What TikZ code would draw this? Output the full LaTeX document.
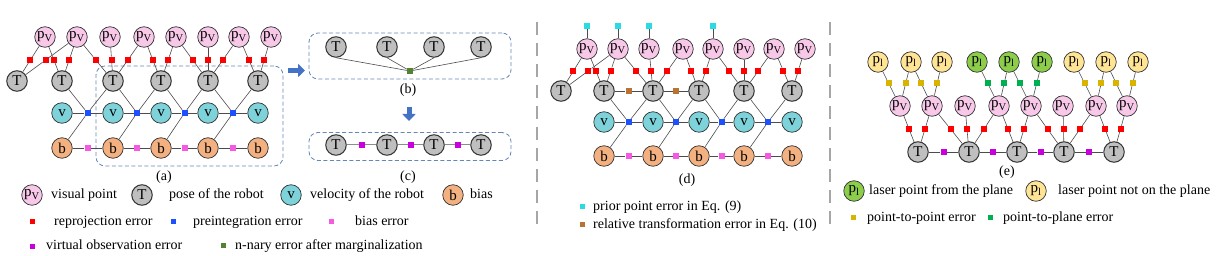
\documentclass[tikz,border=0pt]{standalone}
\usepackage{fontspec}
\setmainfont{Liberation Serif}
\usetikzlibrary{calc,arrows.meta}
\definecolor{pvfill}{RGB}{248,200,232}
\definecolor{Tfill}{RGB}{191,191,191}
\definecolor{vfill}{RGB}{126,210,218}
\definecolor{bfill}{RGB}{243,176,128}
\definecolor{plyel}{RGB}{255,228,150}
\definecolor{plgrn}{RGB}{140,205,75}
\definecolor{sqred}{RGB}{255,0,0}
\definecolor{sqblue}{RGB}{30,80,255}
\definecolor{sqpink}{RGB}{245,90,225}
\definecolor{sqmag}{RGB}{200,0,220}
\definecolor{sqdgreen}{RGB}{84,130,53}
\definecolor{sqcyan}{RGB}{40,220,225}
\definecolor{sqbrown}{RGB}{185,115,50}
\definecolor{sqyel}{RGB}{215,180,0}
\definecolor{sqgrn}{RGB}{0,176,80}
\definecolor{boxblue}{RGB}{100,135,185}
\definecolor{arrblue}{RGB}{68,114,196}
\definecolor{sepgray}{RGB}{166,166,166}
\begin{document}
\begin{tikzpicture}[x=1pt,y=-1pt,
  nd/.style={circle,draw=black!80,line width=0.7pt,minimum size=20.5pt,inner sep=0pt,font=\fontsize{15}{15}\selectfont},
  pvn/.style={nd,fill=pvfill},
  Tn/.style={nd,fill=Tfill,line width=1pt},
  vn/.style={nd,fill=vfill},
  bn/.style={nd,fill=bfill},
  plyn/.style={nd,fill=plyel},
  plgn/.style={nd,fill=plgrn},
  sq/.style={rectangle,inner sep=0pt,minimum size=6pt},
  rsq/.style={sq,fill=sqred},
  bsq/.style={sq,fill=sqblue},
  psq/.style={sq,fill=sqpink},
  msq/.style={sq,fill=sqmag},
  gsq/.style={sq,fill=sqdgreen},
  csq/.style={sq,fill=sqcyan},
  brsq/.style={sq,fill=sqbrown},
  ysq/.style={sq,fill=sqyel},
  esq/.style={sq,fill=sqgrn},
  lsq/.style={minimum size=5pt},
  ed/.style={draw=black!70,line width=0.6pt},
  led/.style={draw=black!45,line width=1pt},
  lbl/.style={font=\fontsize{14}{16}\selectfont,inner sep=0pt,anchor=west,text height=9.5pt,text depth=3pt},
  captxt/.style={font=\fontsize{14}{16}\selectfont,inner sep=0pt},
  dbox/.style={draw=boxblue,dash pattern=on 4pt off 2.5pt,line width=0.8pt,rounded corners=9pt},
  sepline/.style={draw=sepgray,line width=2pt,dash pattern=on 13pt off 8pt},
  barrow/.style={draw=arrblue,line width=5pt,-{Triangle[width=13pt,length=7pt]}}
]
\useasboundingbox (0,0) rectangle (1226,256);

% ---------------- panel (a) ----------------
\node[dbox,minimum width=187pt,minimum height=100pt] (boxA) at (189.5,116) {};
\foreach \i/\x in {1/45,2/77,3/110,4/144,5/176,6/208,7/239,8/271}
  \node[pvn] (aP\i) at (\x,37) {p\textsubscript{V}};
\foreach \i/\x in {1/17,2/62,3/113,4/161,5/208,6/258}
  \node[Tn] (aT\i) at (\x,81) {T};
\foreach \i/\x in {2/62,3/113,4/161,5/208,6/258}{
  \node[vn] (aV\i) at (\x,113) {v};
  \node[bn] (aB\i) at (\x,148) {b};
}
\foreach \p/\t in {1/1,2/1,1/2,2/2,2/3,3/3,4/3,4/4,5/4,5/5,6/5,7/5,7/6,8/6}{
  \node[rsq] (aR\p\t) at ($(aP\p)!0.52!(aT\t)$) {};
  \draw[ed] (aP\p) -- (aR\p\t) -- (aT\t);
}
\foreach \i/\j in {2/3,3/4,4/5,5/6}{
  \node[bsq] (aI\i) at ($(aV\i)!0.5!(aV\j)$) {};
  \node[psq] (aK\i) at ($(aB\i)!0.5!(aB\j)$) {};
  \draw[ed] (aT\i) -- (aI\i) -- (aT\j);
  \draw[ed] (aV\i) -- (aI\i) -- (aV\j);
  \draw[ed] (aB\i) -- (aI\i);
  \draw[ed] (aB\i) -- (aK\i) -- (aB\j);
}
\node[captxt] (capA) at (164,177) {(a)};

% ---------------- panel (b) ----------------
\node[dbox,minimum width=202pt,minimum height=46pt] (boxB) at (410,56) {};
\foreach \i/\x in {1/336,2/387,3/434,4/481}
  \node[Tn] (bT\i) at (\x,47) {T};
\node[gsq] (bN) at (410,71) {};
\foreach \i in {1,...,4}
  \draw[ed] (bT\i.south) -- (bN);
\node[captxt] (capB) at (408,90) {(b)};

% ---------------- panel (c) ----------------
\node[dbox,minimum width=202pt,minimum height=28pt] (boxC) at (410,146.5) {};
\foreach \i/\x in {1/336,2/387,3/434,4/481}
  \node[Tn] (cT\i) at (\x,145) {T};
\foreach \i/\j/\x in {1/2/362,2/3/411,3/4/458}{
  \node[msq] (cM\i) at (\x,145) {};
  \draw[led] (cT\i) -- (cM\i) -- (cT\j);
}
\node[captxt] (capC) at (408,177) {(c)};

% block arrows
\coordinate (arA1) at (288,70.5);
\coordinate (arA2) at (305,70.5);
\draw[barrow] (arA1) -- (arA2);
\coordinate (arB1) at (409,107);
\coordinate (arB2) at (409,121);
\draw[barrow] (arB1) -- (arB2);

% legend (a)-(c)
\node[pvn] (lgP) at (32,195) {p\textsubscript{V}};
\node[lbl] (lgPt) at (51,195) {visual point};
\node[Tn] (lgT) at (142,195) {T};
\node[lbl] (lgTt) at (169,195) {pose of the robot};
\node[vn] (lgV) at (291,195) {v};
\node[lbl] (lgVt) at (310,195) {velocity of the robot};
\node[bn] (lgB) at (453,195) {b};
\node[lbl] (lgBt) at (470,195) {bias};
\node[rsq,lsq] (lgR) at (32,222) {};
\node[lbl] (lgRt) at (54,222) {reprojection error};
\node[bsq,lsq] (lgI) at (173,222) {};
\node[lbl] (lgIt) at (193,222) {preintegration error};
\node[psq,lsq] (lgK) at (331,222) {};
\node[lbl] (lgKt) at (355,222) {bias error};
\node[msq,lsq] (lgM) at (32,247) {};
\node[lbl] (lgMt) at (46,246) {virtual observation error};
\node[gsq,lsq] (lgN) at (223,246) {};
\node[lbl] (lgNt) at (235,246) {n-nary error after marginalization};

% separators
\coordinate (s1a) at (537,22); \coordinate (s1b) at (537,228);
\draw[sepline] (s1a) -- (s1b);
\coordinate (s2a) at (830,22); \coordinate (s2b) at (830,228);
\draw[sepline] (s2a) -- (s2b);

% ---------------- panel (d) ----------------
\foreach \i/\x in {1/587,2/618,3/649,4/683,5/713,6/744,7/774,8/805}
  \node[pvn] (dP\i) at (\x,49) {p\textsubscript{V}};
\foreach \i/\x in {1/561,2/604,3/653,4/699,5/744,6/792}
  \node[Tn] (dT\i) at (\x,91) {T};
\foreach \i/\x in {2/604,3/653,4/699,5/744,6/792}{
  \node[vn] (dV\i) at (\x,122) {v};
  \node[bn] (dB\i) at (\x,156) {b};
}
\foreach \i/\x in {1/587,2/618,3/649,5/713}{
  \node[csq] (dC\i) at (\x,26) {};
  \draw[ed] (dC\i) -- (dP\i);
}
\foreach \p/\t in {1/1,2/1,1/2,2/2,2/3,3/3,4/3,4/4,5/4,5/5,6/5,7/5,7/6,8/6}{
  \node[rsq] (dR\p\t) at ($(dP\p)!0.52!(dT\t)$) {};
  \draw[ed] (dP\p) -- (dR\p\t) -- (dT\t);
}
\foreach \i/\j in {2/3,3/4}{
  \node[brsq] (dW\i) at ($(dT\i)!0.5!(dT\j)$) {};
  \draw[ed] (dT\i) -- (dW\i) -- (dT\j);
}
\foreach \i/\j in {2/3,3/4,4/5,5/6}{
  \node[bsq] (dI\i) at ($(dV\i)!0.5!(dV\j)$) {};
  \node[psq] (dK\i) at ($(dB\i)!0.5!(dB\j)$) {};
  \draw[ed] (dT\i) -- (dI\i) -- (dT\j);
  \draw[ed] (dV\i) -- (dI\i) -- (dV\j);
  \draw[ed] (dB\i) -- (dI\i);
  \draw[ed] (dB\i) -- (dK\i) -- (dB\j);
}
\node[captxt] (capD) at (687,180) {(d)};
\node[csq,lsq] (lgC) at (582,207) {};
\node[lbl] (lgCt) at (593,207) {prior point error in Eq. (9)};
\node[brsq,lsq] (lgW) at (582,225) {};
\node[lbl] (lgWt) at (593,225) {relative transformation error in Eq. (10)};

% ---------------- panel (e) ----------------
\foreach \i/\x in {1/878,2/911,3/942,7/1074,8/1106,9/1138}
  \node[plyn] (eL\i) at (\x,62) {p\textsubscript{l}};
\foreach \i/\x in {4/977,5/1009,6/1042}
  \node[plgn] (eL\i) at (\x,62) {p\textsubscript{l}};
\foreach \i/\x in {1/900,2/932,3/965,4/999,5/1031,6/1063,7/1096,8/1127}
  \node[pvn] (eP\i) at (\x,106) {p\textsubscript{V}};
\foreach \i/\x in {1/918,2/969,3/1017,4/1064,5/1114}
  \node[Tn] (eT\i) at (\x,152) {T};
\foreach \l/\p in {1/1,2/1,2/2,3/2,7/7,8/7,8/8,9/8}{
  \node[ysq] (eY\l\p) at ($(eL\l)!0.477!(eP\p)$) {};
  \draw[ed] (eL\l) -- (eY\l\p) -- (eP\p);
}
\foreach \l/\p in {4/4,5/4,5/5,6/5}{
  \node[esq] (eG\l\p) at ($(eL\l)!0.477!(eP\p)$) {};
  \draw[ed] (eL\l) -- (eG\l\p) -- (eP\p);
}
\foreach \p/\t in {1/1,2/1,2/2,3/2,4/2,4/3,5/3,5/4,6/4,7/4,7/5,8/5}{
  \node[rsq] (eR\p\t) at ($(eP\p)!0.5!(eT\t)$) {};
  \draw[ed] (eP\p) -- (eR\p\t) -- (eT\t);
}
\foreach \i/\j in {1/2,2/3,3/4,4/5}{
  \node[msq] (eM\i) at ($(eT\i)!0.5!(eT\j)$) {};
  \draw[ed] (eT\i) -- (eM\i) -- (eT\j);
}
\node[captxt] (capE) at (1007,172) {(e)};
\node[plgn] (lgG) at (854,191) {p\textsubscript{l}};
\node[lbl] (lgGt) at (869,191) {laser point from the plane};
\node[plyn] (lgY) at (1036,191) {p\textsubscript{l}};
\node[lbl] (lgYt) at (1058,191) {laser point not on the plane};
\node[ysq,lsq] (lgYs) at (853,218) {};
\node[lbl] (lgYst) at (867,218) {point-to-point error};
\node[esq,lsq] (lgGs) at (990,218) {};
\node[lbl] (lgGst) at (1003,218) {point-to-plane error};
\end{tikzpicture}
\end{document}
